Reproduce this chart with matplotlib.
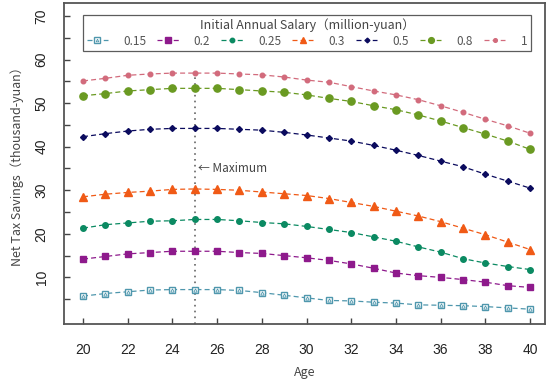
import matplotlib
matplotlib.use("Agg")
import matplotlib.pyplot as plt
from matplotlib.legend_handler import HandlerTuple

plt.rcParams['font.family'] = ['Liberation Sans', 'DejaVu Sans']
CJK = ['Noto Sans CJK SC', 'DejaVu Sans']

ages = list(range(20, 41))

salary_labels = ["0.15", "0.2", "0.25", "0.3", "0.5", "0.8", "1"]

s015 = [5.7, 6.3, 6.7, 7.1, 7.2, 7.2, 7.2, 7.0, 6.5, 5.9, 5.3,
        4.7, 4.6, 4.3, 4.1, 3.7, 3.6, 3.5, 3.3, 3.0, 2.7]
s02 = [14.2, 14.8, 15.4, 15.7, 16.0, 16.0, 16.0, 15.7, 15.5, 15.0, 14.5,
       13.9, 13.1, 12.1, 11.0, 10.4, 10.0, 9.5, 8.9, 8.1, 7.7]
s025 = [21.3, 22.1, 22.5, 22.9, 23.0, 23.3, 23.3, 23.0, 22.6, 22.3, 21.7,
        21.0, 20.3, 19.3, 18.3, 17.0, 15.8, 14.3, 13.3, 12.5, 11.8]
s03 = [28.5, 29.1, 29.5, 29.8, 30.2, 30.3, 30.2, 30.0, 29.6, 29.2, 28.8,
       28.1, 27.2, 26.3, 25.2, 24.1, 22.8, 21.3, 19.8, 18.1, 16.4]
s05 = [42.3, 43.0, 43.6, 44.0, 44.2, 44.2, 44.2, 44.0, 43.8, 43.3, 42.7,
       42.0, 41.3, 40.3, 39.2, 38.0, 36.7, 35.4, 33.7, 32.1, 30.5]
s08 = [51.7, 52.2, 52.8, 53.1, 53.4, 53.4, 53.4, 53.1, 52.8, 52.5, 51.9,
       51.1, 50.4, 49.4, 48.5, 47.3, 45.9, 44.4, 42.9, 41.3, 39.4]
s1 = [55.1, 55.7, 56.4, 56.7, 56.9, 56.9, 56.9, 56.7, 56.5, 56.0, 55.3,
      54.8, 53.8, 52.8, 51.9, 50.8, 49.4, 47.9, 46.3, 44.8, 43.1]

series = [s015, s02, s025, s03, s05, s08, s1]
colors = ["#4f97ad", "#8e1a8c", "#0b8a62", "#f05a16", "#0b0b5e", "#6a9a22", "#d26b7c"]
markers = ["s", "s", "o", "^", "D", "o", "o"]
msizes = [4.6, 4.6, 4.0, 5.2, 3.0, 5.2, 3.3]

max_age = 25
max_top = 56.9

fig = plt.figure(figsize=(5.5, 3.87), dpi=100)
ax = fig.add_axes([0.1164, 0.1628, 0.8745, 0.8295])

handles = []
for i, (vals, col, mk, ms) in enumerate(zip(series, colors, markers, msizes)):
    if i == 0:
        ln, = ax.plot(ages, vals, color=col, ls=(0, (4, 2.5)), lw=0.9,
                      marker=mk, ms=ms, mfc="white", mec=col, mew=1.0)
        inner, = ax.plot(ages, vals, ls="none", marker="^", ms=2.4,
                         mfc="none", mec=col, mew=0.6)
        handles.append((ln, inner))
    else:
        ln, = ax.plot(ages, vals, color=col, ls=(0, (4, 2.5)), lw=0.9,
                      marker=mk, ms=ms, mfc=col, mec=col)
        handles.append(ln)

ax.vlines(max_age, -0.7, max_top, colors="#666666", linestyles=(0, (1, 2.5)), lw=1.2, zorder=0)
ax.text(max_age + 0.15, 35, "\u2190 Maximum", fontsize=8.5, color="#444444",
        va="center", ha="left", family=CJK)

ax.set_xlim(19.15, 40.67)
ax.set_ylim(-0.7, 73)
ax.set_xticks(range(20, 41, 2))
ax.set_yticks(range(5, 71, 5))
ax.set_yticklabels([str(v) if v % 10 == 0 else "" for v in range(5, 71, 5)],
                   rotation=90, va="center")

ax.tick_params(direction="in", length=4, width=1, color="#444444",
               labelsize=10, labelcolor="#222222")
ax.tick_params(axis="x", pad=14)
ax.tick_params(axis="y", pad=11)
for sp in ax.spines.values():
    sp.set_color("#555555")
    sp.set_linewidth(1.3)

ax.set_xlabel("Age", fontsize=9, color="#444444", family=CJK, labelpad=6)
ax.set_ylabel("Net Tax Savings（thousand-yuan）", fontsize=9, color="#444444",
              family=CJK, labelpad=8)

leg = ax.legend(handles, salary_labels, handler_map={tuple: HandlerTuple(ndivide=1, pad=0)},
                loc="upper left", bbox_to_anchor=(0.0395, 0.847, 0.931, 0.1156),
                mode="expand", ncol=7, borderaxespad=0, handlelength=1.8,
                handletextpad=1.3, columnspacing=1.0, fontsize=8.5, markerscale=0.8,
                title="Initial Annual Salary（million-yuan）",
                title_fontproperties={"family": CJK, "size": 9},
                frameon=True, fancybox=False, edgecolor="#333333",
                borderpad=0.3, labelspacing=0.2)
leg.get_frame().set_linewidth(0.9)
leg.get_title().set_color("#444444")
for t in leg.get_texts():
    t.set_color("#555555")
    t.set_family(CJK)

fig.savefig("out.png", dpi=100)
